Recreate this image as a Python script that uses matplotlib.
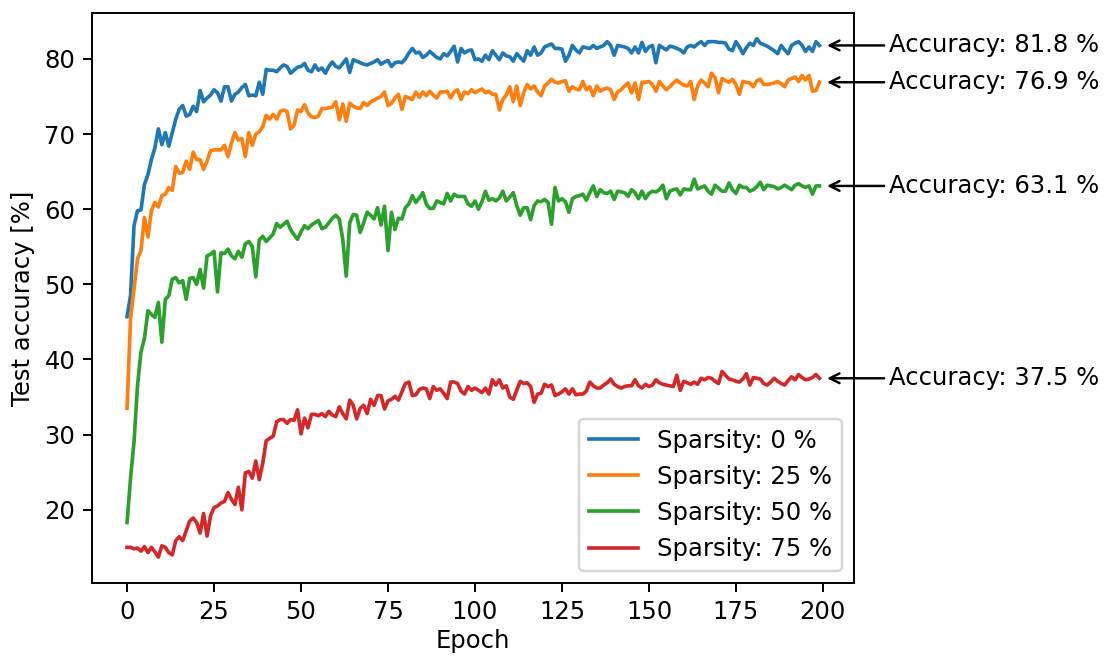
import numpy as np
import matplotlib
matplotlib.use('Agg')
import matplotlib.pyplot as plt

# test accuracy per epoch
acc_sp0 = [45.7, 48.5, 57.8, 59.8, 59.9, 63.3, 64.6, 66.6, 68.2, 70.7,
           68.6, 70.2, 68.4, 70.2, 72.0, 73.3, 73.8, 72.4, 72.6, 73.7,
           73.0, 75.8, 74.3, 74.8, 75.2, 75.9, 75.5, 74.4, 76.3, 76.3,
           74.4, 75.3, 75.6, 76.2, 76.6, 75.1, 75.2, 75.1, 76.9, 75.3,
           78.6, 78.5, 78.5, 78.3, 78.8, 79.2, 79.0, 78.1, 78.5, 78.9,
           79.0, 79.4, 78.5, 78.3, 79.2, 78.5, 78.8, 78.1, 79.0, 79.6,
           79.0, 78.8, 79.4, 80.0, 78.2, 79.9, 79.7, 79.5, 79.3, 79.2,
           79.4, 79.6, 79.9, 79.3, 79.6, 79.8, 79.0, 79.5, 79.6, 79.5,
           80.0, 80.8, 81.4, 80.8, 80.9, 80.2, 80.5, 81.0, 80.6, 80.2,
           80.0, 80.7, 80.4, 81.0, 81.7, 79.6, 81.4, 80.8, 81.1, 81.2,
           79.9, 80.0, 79.7, 80.5, 79.9, 81.1, 80.5, 79.9, 80.8, 80.4,
           80.3, 79.7, 80.7, 80.2, 79.7, 81.1, 80.5, 81.6, 80.5, 80.8,
           81.6, 81.8, 82.0, 81.4, 81.4, 81.3, 79.7, 80.5, 81.8, 81.2,
           80.8, 81.6, 81.5, 81.4, 81.8, 81.4, 81.6, 81.8, 82.3, 81.8,
           80.5, 81.8, 81.7, 81.6, 81.4, 80.8, 81.6, 80.8, 82.2, 81.0,
           81.6, 81.8, 79.5, 81.8, 81.5, 81.2, 81.7, 81.6, 81.4, 81.2,
           80.8, 81.6, 81.8, 81.6, 82.0, 82.3, 81.8, 82.3, 82.3, 82.3,
           82.2, 82.2, 82.1, 81.3, 81.1, 82.3, 81.6, 80.7, 81.5, 82.1,
           81.8, 82.7, 82.1, 81.9, 81.7, 81.4, 81.1, 80.7, 81.8, 81.2,
           80.7, 81.8, 82.1, 82.3, 81.8, 81.0, 81.6, 81.0, 82.3, 81.8]

acc_sp25 = [33.5, 45.4, 49.4, 53.4, 54.5, 58.9, 56.3, 59.8, 60.9, 60.3,
            61.8, 62.0, 62.9, 62.5, 65.7, 64.8, 64.9, 66.4, 65.3, 67.6,
            66.6, 66.6, 65.3, 66.4, 67.8, 67.9, 67.9, 67.9, 68.5, 67.0,
            68.8, 70.2, 69.2, 69.4, 67.0, 70.2, 68.5, 70.0, 70.3, 71.0,
            72.5, 72.0, 72.6, 72.0, 73.0, 73.2, 73.0, 70.7, 71.2, 73.2,
            73.0, 73.9, 72.8, 72.3, 72.2, 72.4, 73.4, 73.4, 73.5, 73.6,
            74.3, 71.9, 74.0, 71.7, 74.1, 73.7, 73.5, 73.4, 74.2, 73.8,
            74.3, 74.5, 74.8, 75.0, 75.6, 73.8, 74.1, 74.8, 75.3, 73.3,
            75.0, 74.8, 74.6, 75.6, 74.9, 75.6, 75.1, 75.7, 75.2, 74.8,
            75.6, 75.6, 75.7, 74.8, 75.6, 75.9, 74.6, 75.6, 75.4, 75.9,
            75.5, 75.8, 76.0, 75.5, 75.7, 75.3, 75.3, 73.2, 74.6, 75.2,
            76.3, 74.3, 76.4, 73.8, 75.5, 76.6, 76.0, 76.4, 75.6, 75.1,
            76.4, 76.8, 77.3, 76.9, 76.8, 77.0, 77.1, 75.7, 76.3, 76.0,
            75.9, 77.0, 75.9, 76.3, 75.1, 76.4, 75.7, 76.0, 76.1, 75.9,
            74.6, 75.6, 75.9, 76.4, 76.8, 75.5, 76.8, 74.6, 76.9, 76.9,
            77.0, 76.6, 75.7, 77.0, 76.4, 75.9, 76.3, 76.8, 77.2, 76.8,
            76.5, 76.4, 77.0, 74.6, 76.4, 77.2, 76.8, 76.3, 78.1, 77.5,
            75.5, 77.4, 77.1, 76.9, 77.3, 76.6, 75.3, 77.0, 76.9, 76.8,
            76.3, 77.1, 77.3, 76.6, 76.6, 76.7, 76.8, 77.0, 76.7, 76.3,
            77.2, 77.4, 77.6, 77.0, 77.8, 77.2, 77.8, 75.7, 75.8, 76.9]

acc_sp50 = [18.3, 24.2, 29.0, 36.5, 41.0, 42.8, 46.5, 46.0, 45.6, 47.6,
            42.3, 48.0, 48.5, 50.7, 50.9, 50.2, 50.5, 48.0, 50.8, 50.9,
            50.0, 52.0, 49.5, 53.8, 54.0, 54.4, 49.0, 54.2, 54.1, 54.7,
            53.8, 53.4, 54.4, 53.6, 55.4, 55.7, 55.0, 51.0, 55.9, 56.4,
            55.7, 56.2, 56.7, 58.1, 57.6, 58.0, 58.4, 57.3, 56.6, 56.0,
            57.0, 57.8, 57.4, 57.9, 58.2, 58.5, 57.4, 57.6, 58.2, 58.8,
            59.2, 58.7, 56.0, 51.1, 58.2, 59.3, 59.2, 56.9, 58.2, 59.6,
            59.2, 58.7, 60.2, 57.9, 60.4, 54.5, 59.6, 57.3, 58.8, 58.7,
            60.2, 60.7, 61.8, 60.9, 61.5, 62.2, 60.7, 60.1, 60.1, 61.1,
            60.9, 60.7, 62.1, 61.1, 62.0, 61.7, 61.7, 61.7, 60.7, 60.4,
            61.1, 60.0, 61.0, 62.4, 61.2, 61.4, 61.1, 61.5, 62.4, 61.1,
            61.6, 62.2, 60.5, 59.2, 60.2, 60.2, 58.6, 60.5, 61.1, 61.0,
            61.3, 60.9, 58.0, 62.9, 61.1, 61.4, 61.0, 59.6, 61.4, 61.7,
            61.8, 62.0, 61.2, 62.2, 63.1, 61.7, 62.6, 62.2, 62.1, 62.4,
            61.3, 62.4, 62.3, 62.2, 61.7, 62.6, 62.2, 61.4, 62.4, 61.4,
            62.1, 62.4, 62.3, 62.6, 63.2, 61.4, 62.4, 62.6, 62.7, 61.9,
            62.7, 62.6, 62.6, 64.0, 62.7, 62.9, 63.1, 62.4, 62.0, 63.2,
            62.8, 62.4, 62.4, 63.5, 62.6, 62.1, 63.2, 62.9, 62.9, 62.4,
            62.6, 63.0, 63.6, 62.6, 63.2, 63.1, 63.0, 62.7, 62.9, 63.2,
            62.9, 62.6, 63.2, 63.4, 63.1, 62.9, 63.1, 62.0, 63.1, 63.1]

acc_sp75 = [15.0, 15.0, 14.8, 14.9, 14.5, 15.1, 14.3, 15.0, 14.4, 13.7,
            15.2, 15.0, 14.3, 14.0, 15.9, 16.4, 15.9, 17.2, 18.5, 18.9,
            18.3, 16.9, 19.5, 16.5, 19.2, 20.3, 20.5, 20.9, 21.1, 22.3,
            21.4, 20.7, 23.0, 20.0, 24.9, 25.1, 24.2, 26.5, 24.0, 26.2,
            29.2, 29.5, 29.8, 31.7, 32.0, 32.0, 31.5, 32.0, 31.9, 33.3,
            30.1, 32.2, 30.9, 32.7, 32.7, 32.5, 32.8, 32.4, 33.1, 32.6,
            32.4, 33.7, 32.8, 32.1, 34.6, 33.9, 32.1, 33.5, 33.9, 32.8,
            34.7, 33.9, 35.2, 35.2, 33.4, 34.5, 34.7, 35.1, 34.6, 35.7,
            36.8, 37.0, 35.2, 35.3, 36.0, 36.2, 36.1, 34.8, 36.4, 35.9,
            36.1, 35.5, 34.8, 37.0, 37.0, 36.8, 35.8, 35.4, 36.4, 35.9,
            36.2, 35.9, 35.6, 36.2, 35.4, 37.3, 36.6, 37.3, 36.2, 36.5,
            35.0, 34.7, 35.9, 37.1, 36.8, 36.9, 36.4, 34.3, 35.4, 35.5,
            36.7, 36.4, 36.6, 35.2, 35.4, 35.7, 36.1, 35.4, 36.1, 35.3,
            35.4, 35.4, 35.8, 37.0, 36.5, 36.2, 36.2, 36.6, 36.9, 37.4,
            36.7, 36.4, 36.2, 36.4, 36.5, 36.5, 37.3, 36.5, 36.2, 36.7,
            36.4, 36.6, 37.3, 36.9, 36.7, 36.6, 36.5, 36.4, 37.9, 35.9,
            37.1, 36.9, 36.7, 37.0, 36.7, 37.5, 37.3, 37.6, 37.5, 37.1,
            36.8, 38.4, 37.9, 37.4, 37.3, 37.1, 37.0, 37.4, 38.1, 36.6,
            37.6, 37.5, 37.4, 36.8, 36.6, 37.0, 37.5, 37.1, 36.8, 36.6,
            37.2, 37.7, 37.3, 38.0, 37.6, 37.3, 37.4, 37.6, 38.0, 37.5]

sparsities = [0, 25, 50, 75]
curves = [acc_sp0, acc_sp25, acc_sp50, acc_sp75]
epochs = np.arange(len(acc_sp0))

fig = plt.figure(figsize=(1107 / 175, 657 / 175), dpi=175)
ax = fig.add_axes([0.0835, 0.1126, 0.688, 0.868])

for sp, acc in zip(sparsities, curves):
    ax.plot(epochs, acc, label=f'Sparsity: {sp} %')

# final accuracy next to each curve
for acc in curves:
    ax.annotate(f'Accuracy: {acc[-1]:.1f} %', xy=(epochs[-1] + 0.8, acc[-1]),
                xytext=(epochs[-1] + 20, acc[-1]), va='center',
                arrowprops=dict(arrowstyle='->', color='black', shrinkA=0),
                annotation_clip=False)

ax.set_xlabel('Epoch', labelpad=2)
ax.set_ylabel('Test accuracy [%]')
ax.legend(loc='lower right')
plt.savefig('out.png', dpi=175)
